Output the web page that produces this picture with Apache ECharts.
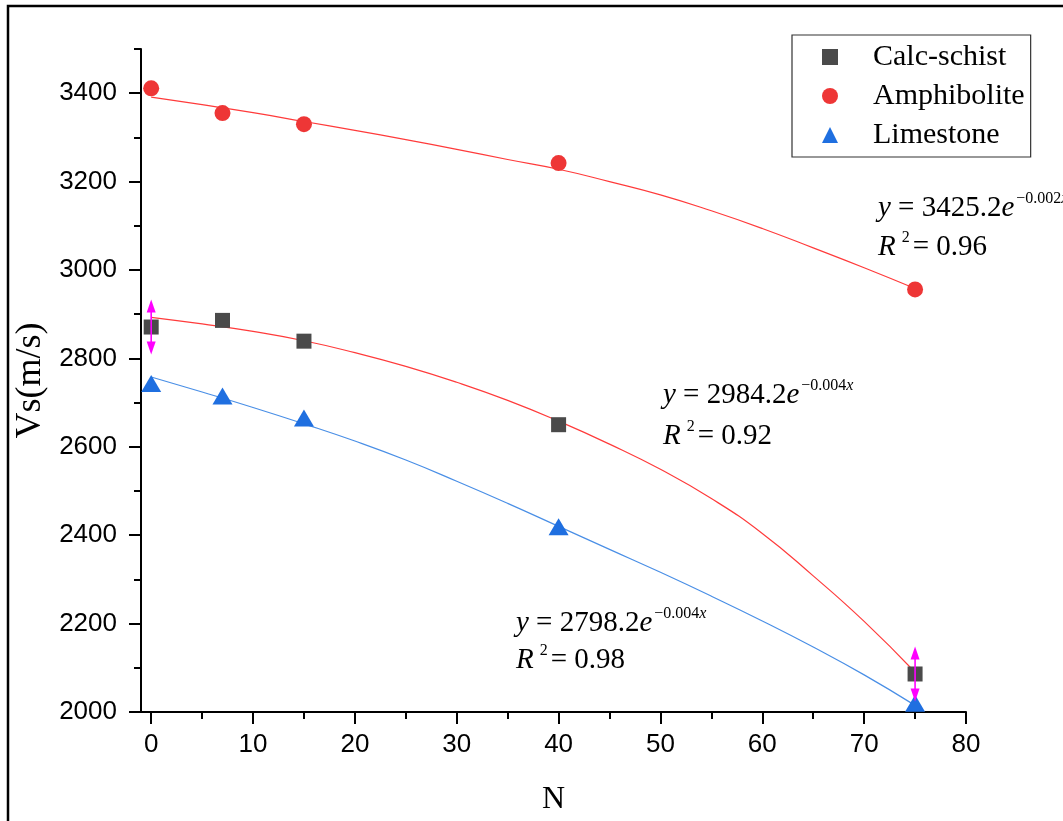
<!DOCTYPE html>
<html>
<head>
<meta charset="utf-8">
<script src="https://cdn.jsdelivr.net/npm/echarts@6/dist/echarts.min.js"></script>
<style>
  html, body { margin: 0; padding: 0; background: #fff; }
  #chart { width: 1063px; height: 821px; }
</style>
</head>
<body>
<div id="chart"></div>
<script>
// ---- data ----
const xN = [0, 7, 15, 40, 75];
const calcSchist = [2871, 2886, 2839, 2650, 2086];
const amphibolite = [3411, 3355, 3330, 3242, 2956];
const limestone = [2743, 2715, 2665, 2419, 2020];

// error bars (Calc-schist)
const errX = [0, 75];
const errCenter = [2871, 2086];
const errHalf = [62, 62];

// fitted curves
const fitX = [0, 5, 10, 15, 20, 25, 30, 35, 40, 45, 50, 55, 60, 65, 70, 75];
const calcFit = [2893, 2878, 2861, 2840, 2813, 2782, 2746, 2705, 2658, 2606, 2549, 2483, 2404, 2308, 2205, 2090];
const amphFit = [3391, 3374, 3356, 3336, 3316, 3295, 3273, 3250, 3228, 3200, 3170, 3134, 3094, 3050, 3005, 2958];
const limeFit = [2758, 2724, 2689, 2652, 2613, 2570, 2522, 2472, 2420, 2368, 2316, 2262, 2206, 2147, 2084, 2015];

// ticks
const xTicks = [0, 10, 20, 30, 40, 50, 60, 70, 80];
const xMinor = [5, 15, 25, 35, 45, 55, 65, 75];
const yTicks = [2000, 2200, 2400, 2600, 2800, 3000, 3200, 3400];
const yMinor = [2100, 2300, 2500, 2700, 2900, 3100, 3300, 3500];

// equations
const eqCoef = ['3425.2', '2984.2', '2798.2'];
const eqExp = ['0.002', '0.004', '0.004'];
const eqR2 = ['0.96', '0.92', '0.98'];

const serif = 'Liberation Serif';
const sans = 'Liberation Sans';

const chart = echarts.init(document.getElementById('chart'), null, { renderer: 'canvas' });

const pair = (xs, ys) => xs.map((x, i) => [x, ys[i]]);

const eqPos = [[878, 208, 247], [663, 395, 436], [516, 623, 660]];
const richStyles = {
  i: { fontFamily: serif, fontStyle: 'italic', fontSize: 29, lineHeight: 34 },
  s: { fontFamily: serif, fontSize: 16, lineHeight: 16, verticalAlign: 'top', padding: [0, 0, 0, 2] },
  si: { fontFamily: serif, fontStyle: 'italic', fontSize: 16, lineHeight: 16, verticalAlign: 'top' },
  s2: { fontFamily: serif, fontSize: 16, lineHeight: 16, verticalAlign: 'top', padding: [0, 3, 0, 6] }
};
const eqGraphics = [];
eqCoef.forEach((c, k) => {
  const [ex, ey1, ey2] = eqPos[k];
  eqGraphics.push({
    type: 'text', x: ex, y: ey1, silent: true,
    style: {
      text: '{i|y} = ' + c + '{i|e}{s|\u2212' + eqExp[k] + '}{si|x}',
      fontFamily: serif, fontSize: 29, lineHeight: 34, fill: '#000',
      align: 'left', verticalAlign: 'middle', rich: richStyles
    }
  });
  eqGraphics.push({
    type: 'text', x: ex, y: ey2, silent: true,
    style: {
      text: '{i|R}{s2|2}= ' + eqR2[k],
      fontFamily: serif, fontSize: 29, lineHeight: 34, fill: '#000',
      align: 'left', verticalAlign: 'middle', rich: richStyles
    }
  });
});

const tickLine = { color: '#000', width: 2 };
const plain = v => String(v);

const option = {
  backgroundColor: '#fff',
  animation: false,
  grid: { left: 141, right: 97, top: 49, bottom: 107, containLabel: false },
  xAxis: [{
    type: 'value', min: -1, max: 80,
    name: 'N', nameLocation: 'middle', nameGap: 72,
    nameTextStyle: { fontFamily: serif, fontSize: 32, color: '#000' },
    axisLine: { show: true, onZero: false, lineStyle: tickLine },
    axisTick: { show: true, inside: false, customValues: xTicks, length: 12, lineStyle: tickLine },
    axisLabel: { customValues: xTicks, formatter: plain, fontFamily: sans, fontSize: 26, color: '#000', margin: 20 },
    splitLine: { show: false }
  }, {
    type: 'value', min: -1, max: 80, position: 'bottom', offset: 0,
    axisLine: { show: false, onZero: false },
    axisTick: { show: true, inside: false, customValues: xMinor, length: 7, lineStyle: tickLine },
    axisLabel: { show: false },
    splitLine: { show: false }
  }],
  yAxis: [{
    type: 'value', min: 2000, max: 3500,
    name: 'Vs(m/s)', nameLocation: 'middle', nameGap: 80, nameRotate: 90,
    nameTextStyle: { fontFamily: serif, fontSize: 36, color: '#000' },
    axisLine: { show: true, onZero: false, lineStyle: tickLine },
    axisTick: { show: true, inside: false, customValues: yTicks, length: 12, lineStyle: tickLine },
    axisLabel: { customValues: yTicks, formatter: plain, fontFamily: sans, fontSize: 26, color: '#000', margin: 24 },
    splitLine: { show: false }
  }, {
    type: 'value', min: 2000, max: 3500, position: 'left', offset: 0,
    axisLine: { show: false, onZero: false },
    axisTick: { show: true, inside: false, customValues: yMinor, length: 7, lineStyle: tickLine },
    axisLabel: { show: false },
    splitLine: { show: false }
  }],
  legend: {
    orient: 'vertical', left: 792, top: 35,
    padding: [3, 6, 3, 30], itemGap: 1,
    itemWidth: 16, itemHeight: 16,
    borderColor: '#333', borderWidth: 1.2,
    textStyle: { fontFamily: serif, fontSize: 30, color: '#000', lineHeight: 38, padding: [0, 0, 0, 30] },
    data: [
      { name: 'Calc-schist', icon: 'rect' },
      { name: 'Amphibolite', icon: 'circle' },
      { name: 'Limestone', icon: 'triangle' }
    ]
  },
  graphic: [{
    type: 'rect', silent: true, z: 100,
    shape: { x: 8, y: 6, width: 1060, height: 830 },
    style: { fill: null, stroke: '#000', lineWidth: 2.5 }
  }].concat(eqGraphics),
  series: [
    { name: 'fitAmph', type: 'line', smooth: true, showSymbol: false, z: 1,
      data: pair(fitX, amphFit), lineStyle: { color: '#ff3b3b', width: 1.2 }, silent: true },
    { name: 'fitCalc', type: 'line', smooth: true, showSymbol: false, z: 1,
      data: pair(fitX, calcFit), lineStyle: { color: '#ff3b3b', width: 1.2 }, silent: true },
    { name: 'fitLime', type: 'line', smooth: true, showSymbol: false, z: 1,
      data: pair(fitX, limeFit), lineStyle: { color: '#4a8fe6', width: 1.2 }, silent: true },
    { name: 'Calc-schist', type: 'scatter', symbol: 'rect', symbolSize: 15, z: 3,
      data: pair(xN, calcSchist), itemStyle: { color: '#4a4a4a', opacity: 1 } },
    { name: 'Amphibolite', type: 'scatter', symbol: 'circle', symbolSize: 16, z: 3,
      data: pair(xN, amphibolite), itemStyle: { color: '#ee3636', opacity: 1 } },
    { name: 'Limestone', type: 'scatter', symbol: 'triangle', symbolSize: [20, 17], z: 3,
      data: pair(xN, limestone), itemStyle: { color: '#1f6fe0', opacity: 1 } },
    { name: 'err', type: 'custom', z: 5, silent: true,
      data: errX.map((x, i) => [x, errCenter[i], errHalf[i]]),
      renderItem: function (params, api) {
        const x = api.value(0), c = api.value(1), e = api.value(2);
        const t = api.coord([x, c + e]);
        const b = api.coord([x, c - e]);
        const col = '#ff00ff';
        return {
          type: 'group',
          children: [
            { type: 'line', shape: { x1: t[0], y1: t[1] + 3, x2: b[0], y2: b[1] - 3 },
              style: { stroke: col, lineWidth: 1.6 } },
            { type: 'polygon', shape: { points: [[t[0], t[1]], [t[0] - 4.5, t[1] + 13], [t[0] + 4.5, t[1] + 13]] },
              style: { fill: col } },
            { type: 'polygon', shape: { points: [[b[0], b[1]], [b[0] - 4.5, b[1] - 13], [b[0] + 4.5, b[1] - 13]] },
              style: { fill: col } }
          ]
        };
      }
    }
  ]
};

chart.setOption(option);
</script>
</body>
</html>
